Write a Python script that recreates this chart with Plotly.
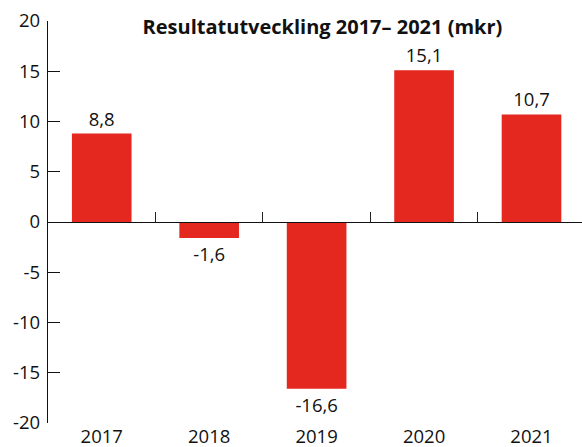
import plotly.graph_objects as go

years = ["2017", "2018", "2019", "2020", "2021"]
values = [8.8, -1.6, -16.6, 15.1, 10.7]
y_ticks = [-20, -15, -10, -5, 0, 5, 10, 15, 20]
title_text = "Resultatutveckling 2017– 2021 (mkr)"

FONT = "Open Sans"
RED = "#E4271F"
FS = 18.5

labels = [f"{v:.1f}".replace(".", ",") for v in values]
y_tick_text = [str(t) for t in y_ticks]

fig = go.Figure()
fig.add_trace(go.Bar(
    x=list(range(len(years))), y=values,
    marker=dict(color=RED, line=dict(width=0)),
    width=0.555,
    text=labels, textposition="outside",
    textfont=dict(family=FONT, size=FS, color="#111"),
    cliponaxis=False,
))
# invisible trace so the zero-line axis (category boundary ticks) is drawn
fig.add_trace(go.Scatter(x=[0], y=[0], xaxis="x2", yaxis="y", mode="markers",
                         marker=dict(opacity=0), showlegend=False, hoverinfo="skip"))

fig.update_layout(
    width=582, height=447,
    margin=dict(l=48, r=0, t=21, b=24, autoexpand=False),
    plot_bgcolor="white", paper_bgcolor="white",
    showlegend=False,
    font=dict(family=FONT, size=FS, color="#111"),
    title=dict(text="<b>" + title_text + "</b>", x=0.514, xanchor="center",
               xref="paper", yref="container", y=0.94, yanchor="middle",
               automargin=False,
               font=dict(family=FONT, size=20, color="#111")),
    xaxis=dict(
        range=[-0.5, 4.47], automargin=False,
        tickmode="array", tickvals=list(range(len(years))), ticktext=years,
        showline=False, ticks="", showgrid=False, zeroline=False,
        tickfont=dict(family=FONT, size=FS, color="#111"),
        ticklabelstandoff=0,
    ),
    xaxis2=dict(
        range=[-0.5, 4.47], overlaying="x", anchor="free", position=0.5,
        side="bottom", automargin=False,
        tickmode="array", tickvals=[0.5, 1.5, 2.5, 3.5],
        showticklabels=False, ticks="inside", ticklen=10, tickcolor="#222", tickwidth=1.2,
        showline=True, linecolor="#111", linewidth=1.3,
        showgrid=False, zeroline=False,
    ),
    yaxis=dict(
        range=[-20, 20], automargin=False,
        tickmode="array", tickvals=y_ticks, ticktext=y_tick_text,
        ticks="inside", ticklen=12, tickcolor="#111", tickwidth=1.4,
        showline=True, linecolor="#111", linewidth=1.4,
        showgrid=False, zeroline=False, ticklabelstandoff=3,
        tickfont=dict(family=FONT, size=FS, color="#111"),
    ),
)

fig.write_html("out.html", config={"displayModeBar": False},
               post_script="document.body.style.margin='0';")
